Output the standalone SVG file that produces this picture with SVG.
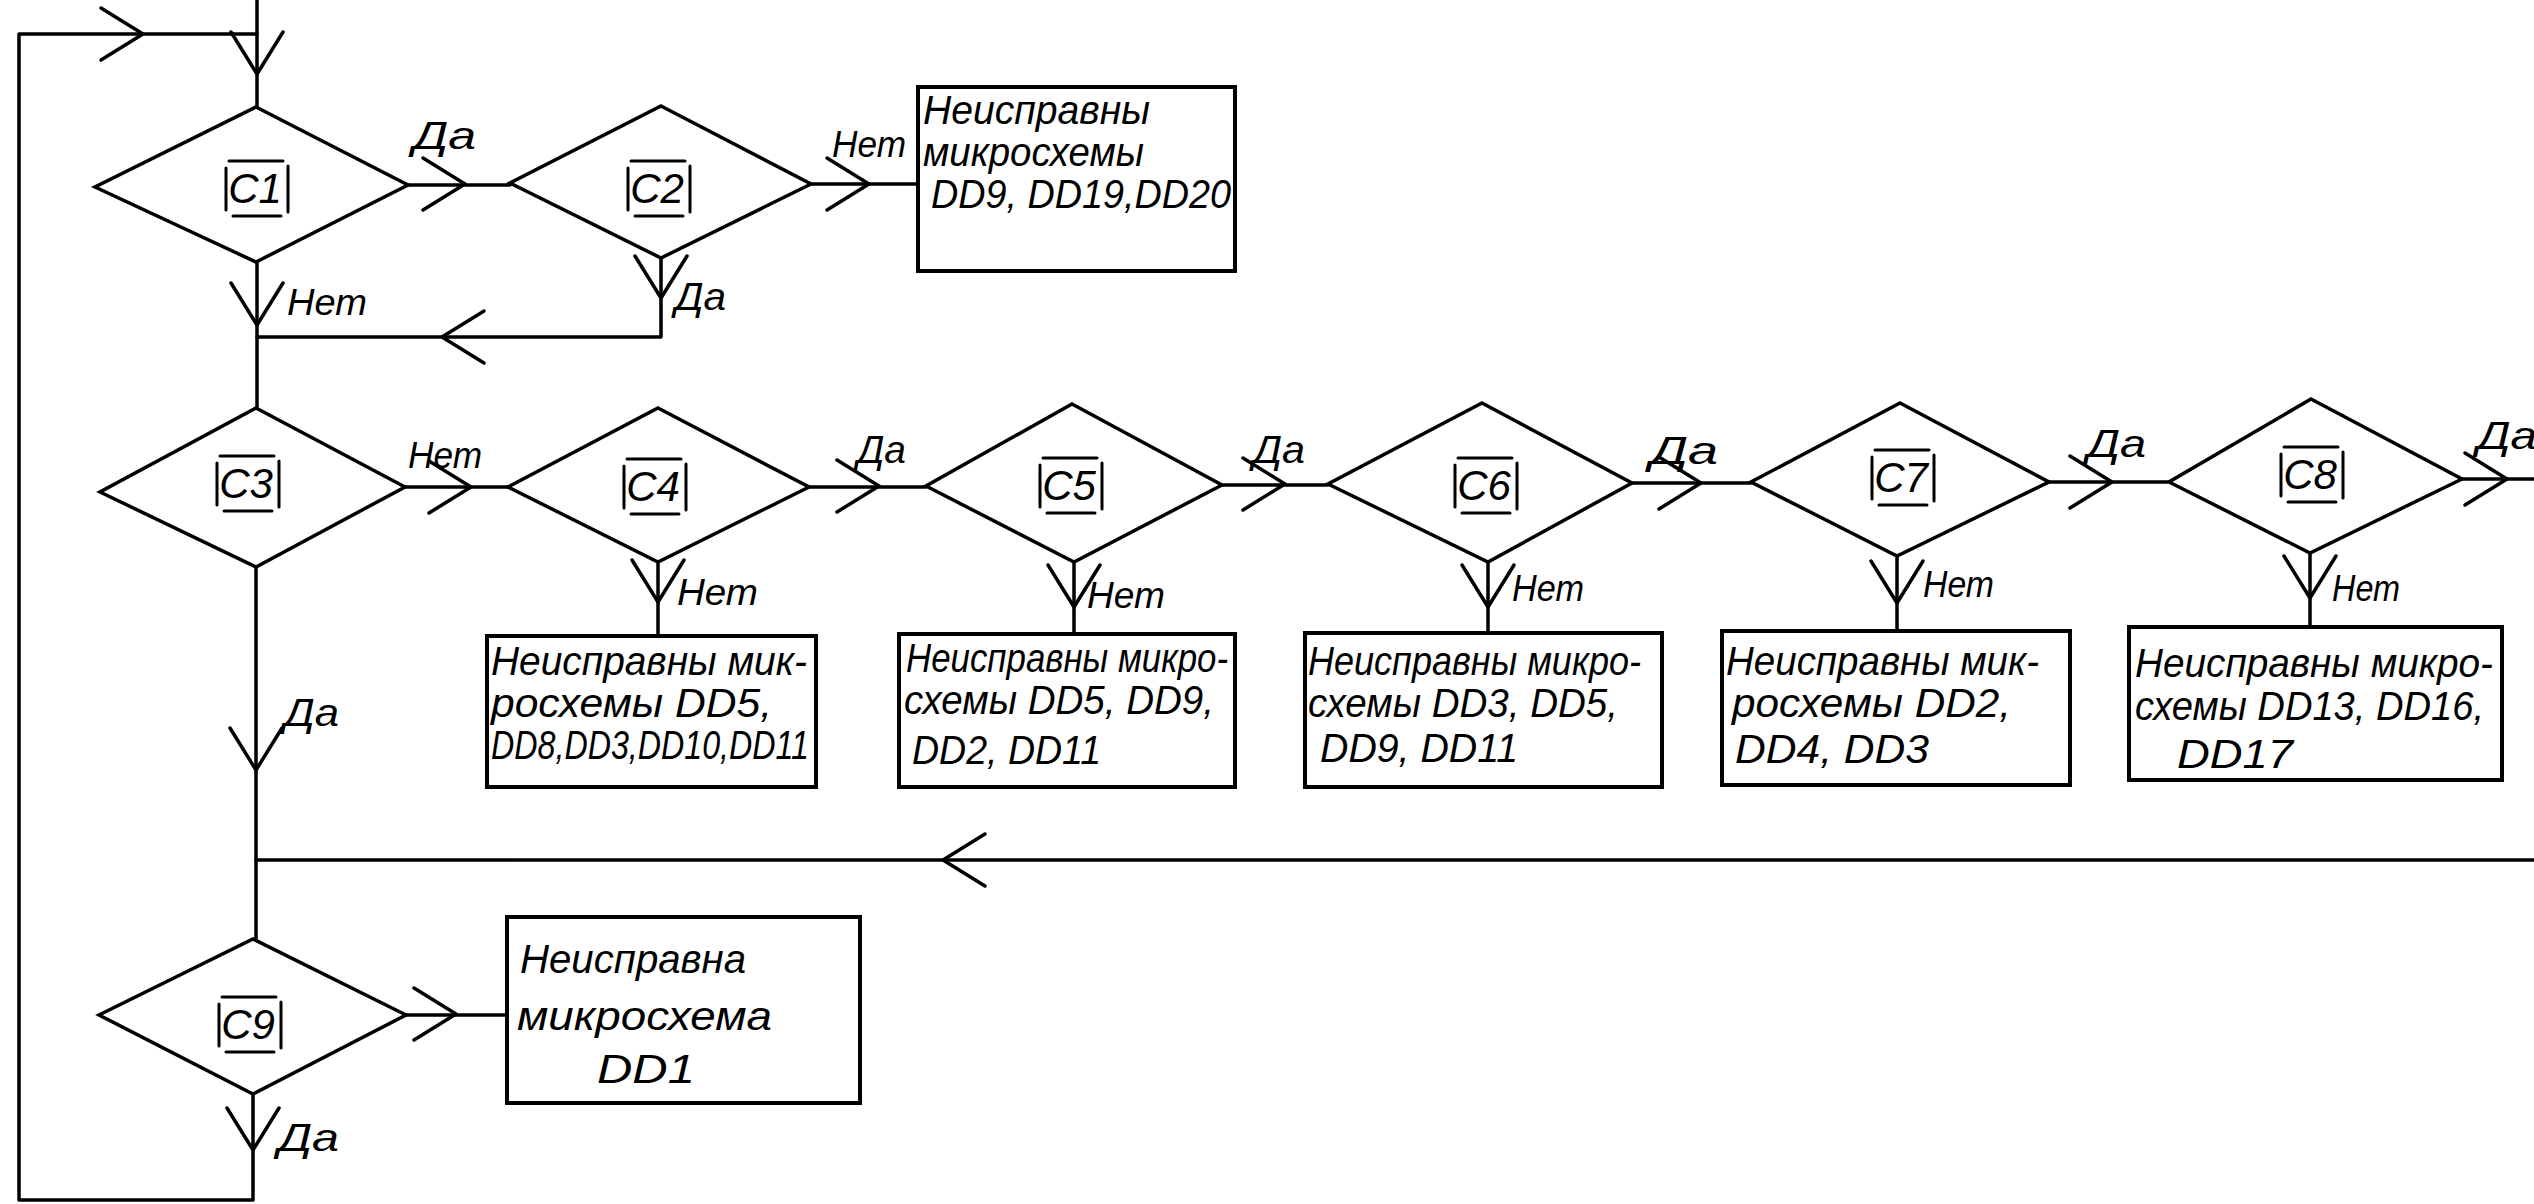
<svg xmlns="http://www.w3.org/2000/svg" xmlns:xlink="http://www.w3.org/1999/xlink" width="2534" height="1204" viewBox="0 0 2534 1204">
<style>
.ln{fill:none;stroke:#000;stroke-width:3.5;stroke-linecap:round;stroke-linejoin:round}
.nd{fill:none;stroke:#000;stroke-width:3.5;stroke-linejoin:miter}
.bx{fill:none;stroke:#000;stroke-width:4}
.t{font-family:"Liberation Sans",Arial,sans-serif;font-style:italic;fill:#000}
.bt{font-size:40px}
.lb{font-size:36px}
.da{font-size:39px}
.ct{font-size:42px;text-anchor:middle}
</style>
<defs>
<path id="ar" d="M-42,-26 L0,0 L-42,26" fill="none" stroke="#000" stroke-width="3.5" stroke-linecap="round" stroke-linejoin="round"/>
<g id="frame" fill="none" stroke="#000" stroke-width="3" stroke-linecap="round">
<path d="M-28,-27 H26 M-24,28 H24 M-31,-20 V22 M31,-22 V24"/>
</g>
</defs>
<rect width="2534" height="1204" fill="#fff"/>

<g id="connectors">
<path class="ln" d="M257,0 V107"/>
<use xlink:href="#ar" transform="translate(257,74) rotate(90)"/>
<path class="ln" d="M257,34 H19 V1200 H253 V1094"/>
<use xlink:href="#ar" transform="translate(143,34)"/>
<use xlink:href="#ar" transform="translate(253,1150) rotate(90)"/>
<path class="ln" d="M408,185 H510"/>
<use xlink:href="#ar" transform="translate(465,184)"/>
<path class="ln" d="M811,184 H918"/>
<use xlink:href="#ar" transform="translate(869,184)"/>
<path class="ln" d="M257,262 V408"/>
<use xlink:href="#ar" transform="translate(257,325) rotate(90)"/>
<path class="ln" d="M661,258 V337 H257"/>
<use xlink:href="#ar" transform="translate(661,298) rotate(90)"/>
<use xlink:href="#ar" transform="translate(442,337) rotate(180)"/>
<path class="ln" d="M405,487 H508"/>
<use xlink:href="#ar" transform="translate(471,487)"/>
<path class="ln" d="M658,562 V636"/>
<use xlink:href="#ar" transform="translate(658,602) rotate(90)"/>
<path class="ln" d="M809,487 H926"/>
<use xlink:href="#ar" transform="translate(879,486)"/>
<path class="ln" d="M1074,562 V634"/>
<use xlink:href="#ar" transform="translate(1074,607) rotate(90)"/>
<path class="ln" d="M1222,485 H1328"/>
<use xlink:href="#ar" transform="translate(1285,484)"/>
<path class="ln" d="M1488,562 V633"/>
<use xlink:href="#ar" transform="translate(1488,607) rotate(90)"/>
<path class="ln" d="M1632,483 H1751"/>
<use xlink:href="#ar" transform="translate(1701,483)"/>
<path class="ln" d="M1897,556 V631"/>
<use xlink:href="#ar" transform="translate(1897,603) rotate(90)"/>
<path class="ln" d="M2049,482 H2169"/>
<use xlink:href="#ar" transform="translate(2112,482)"/>
<path class="ln" d="M2310,553 V627"/>
<use xlink:href="#ar" transform="translate(2310,598) rotate(90)"/>
<path class="ln" d="M2462,479 H2536"/>
<use xlink:href="#ar" transform="translate(2507,479)"/>
<path class="ln" d="M256,567 V939"/>
<use xlink:href="#ar" transform="translate(256,770) rotate(90)"/>
<path class="ln" d="M2536,860 H256"/>
<use xlink:href="#ar" transform="translate(943,860) rotate(180)"/>
<path class="ln" d="M406,1015 H507"/>
<use xlink:href="#ar" transform="translate(456,1014)"/>
</g>

<g id="labels" class="t lb">
<text class="da" x="413" y="149" textLength="63" lengthAdjust="spacingAndGlyphs">Да</text>
<text x="832" y="157" textLength="74" lengthAdjust="spacingAndGlyphs">Нет</text>
<text x="287" y="315" textLength="80" lengthAdjust="spacingAndGlyphs">Нет</text>
<text class="da" x="675" y="310" textLength="51" lengthAdjust="spacingAndGlyphs">Да</text>
<text x="408" y="468" textLength="74" lengthAdjust="spacingAndGlyphs">Нет</text>
<text x="677" y="605" textLength="81" lengthAdjust="spacingAndGlyphs">Нет</text>
<text class="da" x="284" y="726" textLength="55" lengthAdjust="spacingAndGlyphs">Да</text>
<text class="da" x="857" y="463" textLength="49" lengthAdjust="spacingAndGlyphs">Да</text>
<text x="1087" y="608" textLength="78" lengthAdjust="spacingAndGlyphs">Нет</text>
<text class="da" x="1253" y="463" textLength="52" lengthAdjust="spacingAndGlyphs">Да</text>
<text x="1512" y="601" textLength="72" lengthAdjust="spacingAndGlyphs">Нет</text>
<text class="da" x="1650" y="464" textLength="68" lengthAdjust="spacingAndGlyphs">Да</text>
<text x="1923" y="597" textLength="71" lengthAdjust="spacingAndGlyphs">Нет</text>
<text class="da" x="2087" y="457" textLength="59" lengthAdjust="spacingAndGlyphs">Да</text>
<text x="2332" y="601" textLength="68" lengthAdjust="spacingAndGlyphs">Нет</text>
<text class="da" x="2477" y="449" textLength="60" lengthAdjust="spacingAndGlyphs">Да</text>
<text class="da" x="278" y="1151" textLength="61" lengthAdjust="spacingAndGlyphs">Да</text>
</g>

<g id="C1">
<path class="nd" d="M256,107 L408,185 L256,262 L95,187 Z"/>
<use xlink:href="#frame" transform="translate(257,188)"/>
<text class="t ct" x="255" y="203">C1</text>
</g>
<g id="C2">
<path class="nd" d="M661,106 L811,184 L661,258 L510,183 Z"/>
<use xlink:href="#frame" transform="translate(659,188)"/>
<text class="t ct" x="657" y="203">C2</text>
</g>
<g id="box1">
<rect class="bx" x="918" y="87" width="317" height="184"/>
<g class="t bt">
<text x="923" y="124" textLength="227" lengthAdjust="spacingAndGlyphs">Неисправны</text>
<text x="923" y="166" textLength="221" lengthAdjust="spacingAndGlyphs">микросхемы</text>
<text x="931" y="208" textLength="300" lengthAdjust="spacingAndGlyphs">DD9, DD19,DD20</text>
</g>
</g>
<g id="C3">
<path class="nd" d="M256,408 L405,487 L256,567 L100,492 Z"/>
<use xlink:href="#frame" transform="translate(248,483)"/>
<text class="t ct" x="246" y="498">C3</text>
</g>
<g id="C4">
<path class="nd" d="M658,408 L809,487 L658,562 L508,487 Z"/>
<use xlink:href="#frame" transform="translate(655,486)"/>
<text class="t ct" x="653" y="501">C4</text>
</g>
<g id="box4">
<rect class="bx" x="487" y="636" width="329" height="151"/>
<g class="t bt">
<text x="491" y="675" textLength="316" lengthAdjust="spacingAndGlyphs">Неисправны мик-</text>
<text x="491" y="717" textLength="281" lengthAdjust="spacingAndGlyphs">росхемы DD5,</text>
<text x="491" y="759" textLength="318" lengthAdjust="spacingAndGlyphs">DD8,DD3,DD10,DD11</text>
</g>
</g>
<g id="C5">
<path class="nd" d="M1072,404 L1222,485 L1074,562 L926,486 Z"/>
<use xlink:href="#frame" transform="translate(1071,485)"/>
<text class="t ct" x="1069" y="500">C5</text>
</g>
<g id="box5">
<rect class="bx" x="899" y="634" width="336" height="153"/>
<g class="t bt">
<text x="906" y="672" textLength="322" lengthAdjust="spacingAndGlyphs">Неисправны микро-</text>
<text x="904" y="714" textLength="310" lengthAdjust="spacingAndGlyphs">схемы  DD5, DD9,</text>
<text x="912" y="764" textLength="189" lengthAdjust="spacingAndGlyphs">DD2, DD11</text>
</g>
</g>
<g id="C6">
<path class="nd" d="M1482,403 L1632,483 L1488,562 L1328,484 Z"/>
<use xlink:href="#frame" transform="translate(1486,485)"/>
<text class="t ct" x="1484" y="500">C6</text>
</g>
<g id="box6">
<rect class="bx" x="1305" y="633" width="357" height="154"/>
<g class="t bt">
<text x="1308" y="675" textLength="333" lengthAdjust="spacingAndGlyphs">Неисправны микро-</text>
<text x="1308" y="717" textLength="310" lengthAdjust="spacingAndGlyphs">схемы DD3, DD5,</text>
<text x="1320" y="762" textLength="198" lengthAdjust="spacingAndGlyphs">DD9, DD11</text>
</g>
</g>
<g id="C7">
<path class="nd" d="M1900,403 L2049,482 L1897,556 L1751,482 Z"/>
<use xlink:href="#frame" transform="translate(1903,477)"/>
<text class="t ct" x="1901" y="492">C7</text>
</g>
<g id="box7">
<rect class="bx" x="1722" y="631" width="348" height="154"/>
<g class="t bt">
<text x="1726" y="675" textLength="313" lengthAdjust="spacingAndGlyphs">Неисправны мик-</text>
<text x="1732" y="717" textLength="279" lengthAdjust="spacingAndGlyphs">росхемы DD2,</text>
<text x="1735" y="763" textLength="194" lengthAdjust="spacingAndGlyphs">DD4, DD3</text>
</g>
</g>
<g id="C8">
<path class="nd" d="M2311,399 L2462,479 L2310,553 L2169,482 Z"/>
<use xlink:href="#frame" transform="translate(2312,474)"/>
<text class="t ct" x="2310" y="489">C8</text>
</g>
<g id="box8">
<rect class="bx" x="2129" y="627" width="373" height="153"/>
<g class="t bt">
<text x="2135" y="677" textLength="358" lengthAdjust="spacingAndGlyphs">Неисправны микро-</text>
<text x="2135" y="720" textLength="349" lengthAdjust="spacingAndGlyphs">схемы DD13, DD16,</text>
<text x="2177" y="768" textLength="116" lengthAdjust="spacingAndGlyphs">DD17</text>
</g>
</g>
<g id="C9">
<path class="nd" d="M253,939 L406,1015 L253,1094 L99,1015 Z"/>
<use xlink:href="#frame" transform="translate(250,1024)"/>
<text class="t ct" x="248" y="1039">C9</text>
</g>
<g id="box9">
<rect class="bx" x="507" y="917" width="353" height="186"/>
<g class="t bt">
<text x="520" y="973" textLength="226" lengthAdjust="spacingAndGlyphs">Неисправна</text>
<text x="517" y="1030" textLength="255" lengthAdjust="spacingAndGlyphs">микросхема</text>
<text x="597" y="1083" textLength="98" lengthAdjust="spacingAndGlyphs">DD1</text>
</g>
</g>
</svg>
